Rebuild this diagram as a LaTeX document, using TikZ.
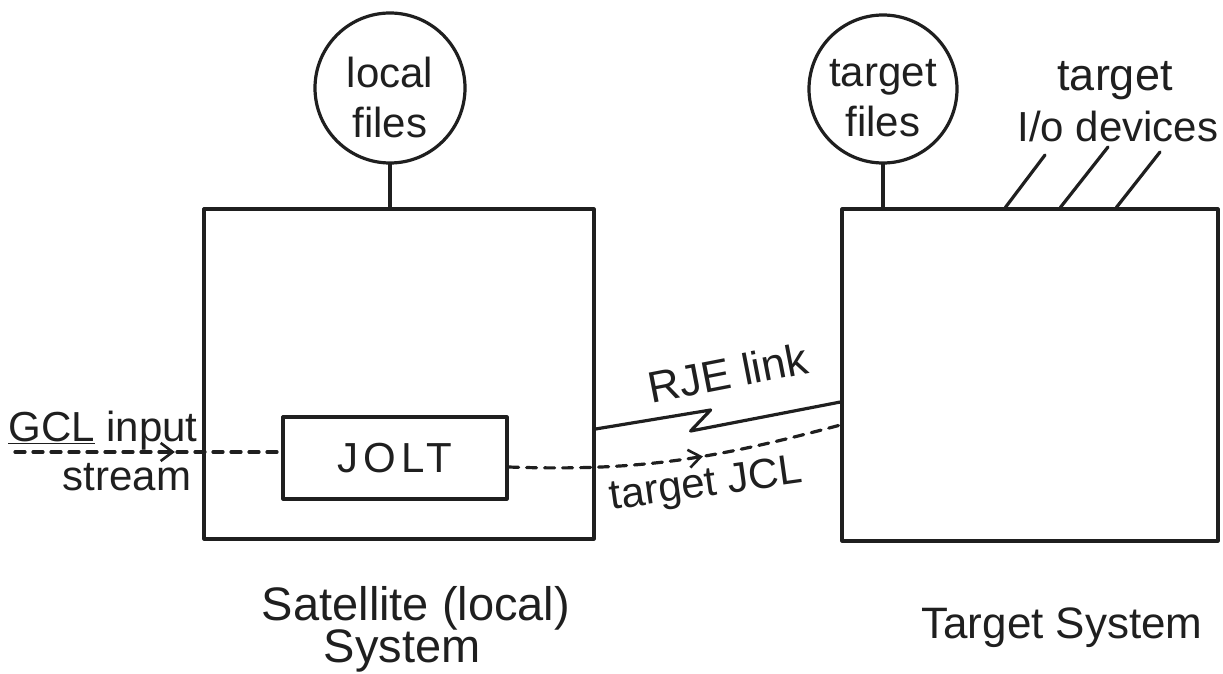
\documentclass[tikz,border=0pt]{standalone}
\usepackage{fontspec}
\setmainfont{Liberation Sans}
\usetikzlibrary{arrows.meta,decorations.markings,calc}
\begin{document}
\begin{tikzpicture}[x=1pt,y=-1pt,
  ink/.style={line width=3.2pt,draw=black!88,line cap=round,line join=round},
  dashline/.style={ink,dash pattern=on 10pt off 8pt},
  sysbox/.style={ink,rectangle,inner sep=0pt},
  filecirc/.style={ink,circle,inner sep=0pt,minimum size=150pt},
  handtext/.style={text=black!88,inner sep=0pt,font=\fontsize{42}{50}\selectfont,align=center},
  midarrow/.style={postaction={decorate},decoration={markings,
     mark=at position #1 with {\arrow[solid]{Straight Barb[length=12pt,width=18pt,line width=2.6pt]}}}}
]
\useasboundingbox (0,0) rectangle (1223,674);

% systems
\node[sysbox,minimum width=390pt,minimum height=330pt] (lbox) at (399,374) {};
\node[sysbox,minimum width=376pt,minimum height=332pt] (rbox) at (1030,375) {};
\node[sysbox,minimum width=224pt,minimum height=82pt] (jolt) at (395,458) {};
\node[handtext] (joltlbl) at (jolt.center) {\addfontfeature{LetterSpace=12}JOLT};

% file circles
\node[filecirc] (lfiles) at (390,88) {};
\node[handtext] (lfileslbl) at ([yshift=-9pt]lfiles.center) {local\\files};
\node[filecirc,minimum size=148pt] (tfiles) at (883,89) {};
\node[handtext] (tfileslbl) at ([yshift=-9pt]tfiles.center) {target\\files};

\draw[ink] (lfiles.south) -- (lfiles.south |- lbox.north);
\draw[ink] (tfiles.south) -- (tfiles.south |- rbox.north);

% target I/O devices
\node[handtext,anchor=base,font=\fontsize{45}{50}\selectfont] (iot1) at (1115,91) {target};
\node[handtext,anchor=base] (iot2) at (1118,142) {I/o devices};
\coordinate (io1a) at ([xshift=165pt]rbox.north west);
\coordinate (io1b) at (1045,155);
\coordinate (io2a) at ([xshift=220pt]rbox.north west);
\coordinate (io2b) at (1108,147);
\coordinate (io3a) at ([xshift=276pt]rbox.north west);
\coordinate (io3b) at (1160,152);
\draw[ink] (io1a) -- (io1b);
\draw[ink] (io2a) -- (io2b);
\draw[ink] (io3a) -- (io3b);

% GCL input stream
\coordinate (gclstart) at (15,452);
\draw[dashline,midarrow=0.6] (gclstart) -- ([yshift=6pt]jolt.west);
\node[handtext,anchor=base] (gcl) at (103,441) {\underline{GCL} input};
\node[handtext,anchor=base] (stream) at (127,490) {stream};

% RJE link
\draw[ink] ([yshift=-55pt]lbox.east) -- ++(115,-19) -- ++(-20,21) -- ([yshift=-27pt]rbox.west);
\node[handtext,rotate=11,font=\fontsize{44}{50}\selectfont] (rje) at (728,373) {RJE link};

% target JCL
\draw[dashline,midarrow=0.58] ([yshift=-9pt]jolt.east) to[out=-2,in=195] ([yshift=-50pt]rbox.west);
\node[handtext,rotate=8] (jcl) at (706,486) {target JCL};

% system captions
\node[handtext,font=\fontsize{47}{50}\selectfont,anchor=base] (sat1) at (416,620) {Satellite (local)};
\node[handtext,font=\fontsize{47}{50}\selectfont,anchor=base] (sat2) at (402,662) {System};
\node[handtext,font=\fontsize{44}{50}\selectfont,anchor=base] (tsys) at (1062,638) {Target System};
\end{tikzpicture}
\end{document}
